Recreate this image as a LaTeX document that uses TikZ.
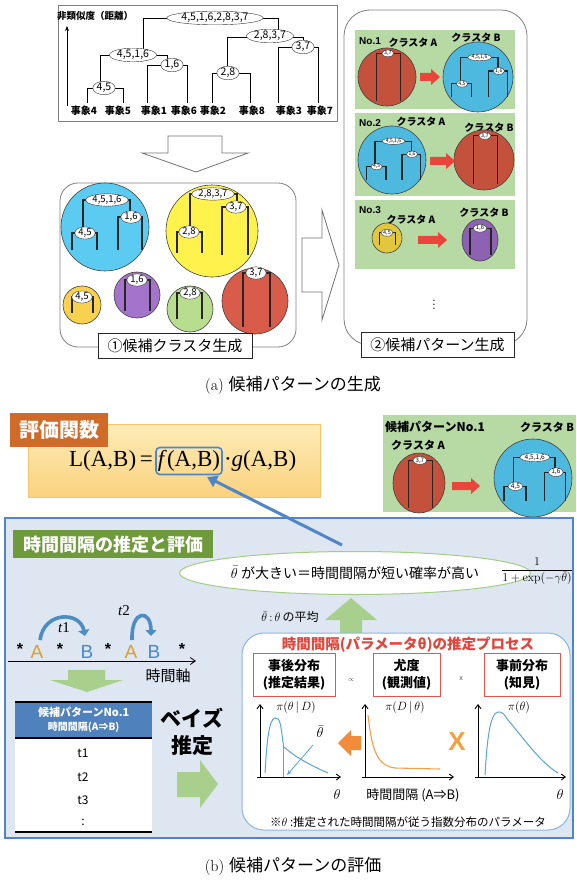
\documentclass[tikz,border=0pt]{standalone}
\usepackage{fontspec}
\usetikzlibrary{shapes.geometric,arrows.meta,calc}
\newfontfamily\jp{Noto Sans CJK JP}
\newfontfamily\tm{Liberation Serif}
\newfontfamily\ar{Liberation Sans}
\newcommand\fs[2]{\fontsize{#1}{#2}\selectfont}
\newcommand\labfs{9.5}
\definecolor{cBlue}{HTML}{5CCBF2}
\definecolor{cBlueP}{HTML}{4DB9DE}
\definecolor{cYel}{HTML}{FFF24C}
\definecolor{cYel2}{HTML}{F8D24E}
\definecolor{cYelP}{HTML}{E2C63E}
\definecolor{cPur}{HTML}{A474CC}
\definecolor{cPurP}{HTML}{8E62B2}
\definecolor{cGrn}{HTML}{B9DD8E}
\definecolor{cRed}{HTML}{D95B4A}
\definecolor{cRedP}{HTML}{C4513C}
\definecolor{cPanel}{HTML}{B7D9A3}
\definecolor{cPanelB}{HTML}{A2C98C}
\definecolor{cRArrow}{HTML}{E9453A}
\definecolor{cTag}{HTML}{D06A28}
\definecolor{cOBtop}{HTML}{FDECB8}
\definecolor{cOBbot}{HTML}{FAD27E}
\definecolor{cOBline}{HTML}{F5C46C}
\definecolor{cBL}{HTML}{4F86C6}
\definecolor{cBigFill}{HTML}{DDE6F1}
\definecolor{cGTag}{HTML}{6E9A3C}
\definecolor{cEllB}{HTML}{A3CD84}
\definecolor{cGA}{HTML}{A8D08C}
\definecolor{cLA}{HTML}{D9A030}
\definecolor{cLB}{HTML}{4A88D0}
\definecolor{cArc}{HTML}{4C8DC4}
\definecolor{cTH}{HTML}{4F81BD}
\definecolor{cIB}{HTML}{8DB4E2}
\definecolor{cTitle}{HTML}{E0463C}
\definecolor{cRBox}{HTML}{E2564E}
\definecolor{cCurve}{HTML}{5BA3DC}
\definecolor{cOr}{HTML}{F28C3A}
\definecolor{cOr2}{HTML}{F5A040}
\definecolor{cOCurve}{HTML}{F4A04A}
\tikzset{
  dl/.style={line width=0.9pt, black},
  tl/.style={line width=1.4pt, black!85},
  gbox/.style={draw=black!50, line width=0.8pt},
  circ/.style={draw=black!75, line width=0.6pt},
  lab/.style={ellipse, draw=black!80, fill=white, line width=0.4pt, inner xsep=0.6pt, inner ysep=0pt, font=\jp\fs{\labfs}{\labfs}},
  ev/.style={font=\jp\bfseries\fs{10}{10}, inner sep=0pt},
  hollow/.style={draw=black!55, fill=white, line width=0.8pt},
  capbox/.style={draw=black!85, fill=white, line width=0.8pt, font=\jp\fs{15}{18}, inner sep=0pt},
  pt/.style={font=\jp\bfseries\fs{10}{10}, inner sep=0pt},
  pno/.style={font=\ar\bfseries\fs{10}{10}, inner sep=0pt},
  rbox/.style={draw=cRBox, fill=white, line width=1pt, align=center, font=\jp\bfseries\fs{13}{17}, inner sep=1pt},
  cv/.style={draw=cCurve, line width=1pt},
  cvo/.style={draw=cOCurve, line width=1.1pt},
  axis/.style={line width=0.9pt, black, -{Straight Barb[length=4pt,width=6pt]}},
  tarc/.style={line width=3.6pt, cArc, -{Triangle[length=6pt,width=11pt]}},
  letter/.style={font=\ar\fs{19}{19}, inner sep=0pt},
  star/.style={font=\ar\bfseries\fs{16}{16}, inner sep=0pt},
}
% mini dendrograms, local coordinates relative to circle centre
\newcommand\treeBlue[1]{%
  \draw[tl] (-22,6) -- (-22,-27) -- (25,-27) -- (25,-10);
  \draw[tl] (-33,23) -- (-33,6) -- (-8,6) -- (-8,23);
  \draw[tl] (13,23) -- (13,-10) -- (37,-10) -- (37,23);
  \node[lab] (#1a) at (2,-27) {4,5,1,6};
  \node[lab] (#1b) at (-20,6) {4,5};
  \node[lab] (#1c) at (26,-10) {1,6};}
\newcommand\treeYel[1]{%
  \draw[tl] (-22,1) -- (-22,-37) -- (25,-37) -- (25,-24);
  \draw[tl] (-35,22) -- (-35,1) -- (-10,1) -- (-10,22);
  \draw[tl] (10,24) -- (10,-24) -- (36,-24) -- (36,24);
  \node[lab] (#1a) at (1,-37) {2,8,3,7};
  \node[lab] (#1b) at (-23,1) {2,8};
  \node[lab] (#1c) at (24,-24) {3,7};}
\newcommand\treeRed[1]{%
  \draw[tl] (-12,26) -- (-12,-28) -- (15,-28) -- (15,26);
  \node[lab] (#1a) at (1,-28) {3,7};}
\newcommand\treeSY[1]{%
  \draw[tl] (-10,8) -- (-10,-8) -- (11,-8) -- (11,8);
  \node[lab] (#1a) at (0,-8) {4,5};}
\newcommand\treePur[1]{%
  \draw[tl] (-12,16) -- (-12,-15) -- (13,-15) -- (13,16);
  \node[lab] (#1a) at (0,-15) {1,6};}
\newcommand\treeGrn[1]{%
  \draw[tl] (-13,10) -- (-13,-16) -- (12,-16) -- (12,10);
  \node[lab] (#1a) at (0,-16) {2,8};}
\newcommand\redarrow[3]{%
  \fill[cRArrow] (#1,{#3-4}) -- ({#2-9},{#3-4}) -- ({#2-9},{#3-8}) -- (#2,#3) -- ({#2-9},{#3+8}) -- ({#2-9},{#3+4}) -- (#1,{#3+4}) -- cycle;}
\begin{document}
\begin{tikzpicture}[x=1pt,y=-1pt]
\useasboundingbox (0,0) rectangle (576,882);
\fill[white] (0,0) rectangle (576,882);

% ================= (a) =================
\draw[gbox] (58,5) rectangle (337,121);
\draw[dl,-{Stealth[length=5pt,width=4pt]}] (67,106) -- (67,26);
\node[anchor=west,font=\jp\bfseries\fs{9.5}{10},inner sep=0pt] (ylab) at (57,16) {非類似度（距離）};
\draw[dl] (143,53) -- (143,18) -- (278,18) -- (278,33);
\draw[dl] (100,86) -- (100,55) -- (167,55) -- (167,64);
\draw[dl] (87,103) -- (87,88) -- (123,88) -- (123,103);
\draw[dl] (147,103) -- (147,65) -- (187,65) -- (187,103);
\draw[dl] (227,72) -- (227,37) -- (303,37) -- (303,47);
\draw[dl] (212,103) -- (212,73) -- (250,73) -- (250,103);
\draw[dl] (278,103) -- (278,47) -- (318,47) -- (318,103);
\begin{scope}\def\labfs{10.5}
\node[lab] (d1) at (215,18) {4,5,1,6,2,8,3,7};
\node[lab] (d2) at (270,36) {2,8,3,7};
\node[lab] (d3) at (303,47) {3,7};
\node[lab] (d4) at (133,55) {4,5,1,6};
\node[lab] (d5) at (172,65) {1,6};
\node[lab] (d6) at (228,73) {2,8};
\node[lab] (d7) at (104,88) {4,5};
\end{scope}
\foreach \x/\t [count=\i] in {84/4,118/5,154/1,184/6,213/2,252/8,289/3,320/7}
  \node[ev] (e\i) at (\x,111) {事象\t};

\draw[hollow] (168,136) -- (222,136) -- (222,153) -- (248,153) -- (196,172) -- (142,153) -- (168,153) -- cycle;

\draw[gbox,rounded corners=18pt] (60,183) rectangle (296,347);
\fill[cBlue] (105,227) circle (44); \draw[circ] (105,227) circle (44);
\fill[cYel] (212,231) circle (46); \draw[circ] (212,231) circle (46);
\fill[cYel2] (82,305) circle (19); \draw[circ] (82,305) circle (19);
\fill[cPur] (137,295) circle (23); \draw[circ] (137,295) circle (23);
\fill[cGrn] (190,309) circle (23); \draw[circ] (190,309) circle (23);
\fill[cRed] (255,301) circle (33); \draw[circ] (255,301) circle (33);
\begin{scope}[shift={(105,227)}]\treeBlue{cb}\end{scope}
\begin{scope}[shift={(212,231)}]\treeYel{cy}\end{scope}
\begin{scope}[shift={(82,305)}]\treeSY{cs}\end{scope}
\begin{scope}[shift={(137,295)}]\treePur{cp}\end{scope}
\begin{scope}[shift={(190,309)}]\treeGrn{cg}\end{scope}
\begin{scope}[shift={(255,301)}]\treeRed{cr}\end{scope}
\node[capbox, minimum width=154pt, minimum height=25pt] (lab1) at (175,345.5) {①候補クラスタ生成};

\draw[hollow] (302,238) -- (322,238) -- (322,210) -- (339,265) -- (322,320) -- (322,292) -- (302,292) -- cycle;

\draw[gbox,rounded corners=26pt] (344,10) rectangle (527,345);
\fill[cPanel] (355,30) rectangle (515,109);
\fill[cPanel] (355,113) rectangle (515,196);
\fill[cPanel] (355,200) rectangle (515,269);
\node[pno] (n1) at (370,41) {No.1};
\node[pt] (n1a) at (413,43) {クラスタ A};
\node[pt] (n1b) at (476,38) {クラスタ B};
\fill[cRedP] (387,77) circle (29); \draw[circ] (387,77) circle (29);
\fill[cBlueP] (478,77) circle (35); \draw[circ] (478,77) circle (35);
\begin{scope}[shift={(387,78)},scale=0.88,every node/.append style={transform shape}]\def\labfs{6}\treeRed{p1r}\end{scope}
\begin{scope}[shift={(478,79)},scale=0.8,every node/.append style={transform shape}]\def\labfs{6.5}\treeBlue{p1b}\end{scope}
\redarrow{420}{440}{77}
\node[pno] (n2) at (370,123) {No.2};
\node[pt] (n2a) at (421,122) {クラスタ A};
\node[pt] (n2b) at (489,128) {クラスタ B};
\fill[cBlueP] (392,160) circle (34); \draw[circ] (392,160) circle (34);
\fill[cRedP] (484,160) circle (30); \draw[circ] (484,160) circle (30);
\begin{scope}[shift={(392,162)},scale=0.77,every node/.append style={transform shape}]\def\labfs{6.5}\treeBlue{p2b}\end{scope}
\begin{scope}[shift={(484,161)},scale=0.9,every node/.append style={transform shape}]\def\labfs{6}\treeRed{p2r}\end{scope}
\redarrow{430}{455}{161}
\node[pno] (n3) at (370,210) {No.3};
\node[pt] (n3a) at (411,220) {クラスタ A};
\node[pt] (n3b) at (484,213) {クラスタ B};
\fill[cYelP] (387,238) circle (15); \draw[circ] (387,238) circle (15);
\fill[cPurP] (480,240) ellipse (18 and 21); \draw[circ] (480,240) ellipse (18 and 21);
\begin{scope}[shift={(387,239)},scale=0.78,every node/.append style={transform shape}]\def\labfs{7}\treeSY{p3s}\end{scope}
\begin{scope}[shift={(480,241)},scale=0.85,every node/.append style={transform shape}]\def\labfs{7}\treePur{p3p}\end{scope}
\redarrow{418}{447}{240}
\node[inner sep=0pt] (dots) at (434,302) {\fs{14}{14}$\vdots$};
\node[capbox, minimum width=153pt, minimum height=25pt] (lab2) at (437.5,344.5) {②候補パターン生成};

\node[inner sep=0pt] (capa) at (293,385) {\fs{16}{19}(a)\ \jp\fs{17}{20}候補パターンの生成};

% ================= (b) =================
\draw[draw=cOBline, top color=cOBtop, bottom color=cOBbot, line width=0.6pt] (28,424) rectangle (320,497);
\node[fill=cTag, text=white, font=\jp\bfseries\fs{20}{24}, minimum width=98pt, minimum height=34pt, inner sep=0pt, anchor=north west] (tag) at (10,413) {評価関数};
\node[draw=cBL, line width=1.6pt, rounded corners=4pt, inner xsep=2pt, inner ysep=3pt, font=\tm\fs{23}{26}] (fb) at (189,461) {\textit{f}(A,B)};
\node[anchor=east, font=\tm\fs{23}{26}, inner sep=0pt] (fl) at ([xshift=-2pt]fb.west) {L(A,B)\,=};
\node[anchor=west, font=\tm\fs{23}{26}, inner sep=0pt] (fg) at ([xshift=1pt]fb.east) {·\textit{g}(A,B)};

\fill[cPanel] (383,415) rectangle (576,512);
\node[anchor=west, font=\jp\bfseries\fs{12}{12}, inner sep=0pt] (bp) at (385,427) {候補パターンNo.1};
\node[pt, font=\jp\bfseries\fs{11}{11}] (bpb) at (547,427) {クラスタ B};
\node[pt, font=\jp\bfseries\fs{11}{11}] (bpa) at (418,445) {クラスタ A};
\fill[cRedP] (419,483) ellipse (26 and 30); \draw[circ] (419,483) ellipse (26 and 30);
\fill[cBlueP] (533,478) circle (39); \draw[circ] (533,478) circle (39);
\begin{scope}[shift={(419,485)},scale=0.88,every node/.append style={transform shape}]\def\labfs{7}\treeRed{b1r}\end{scope}
\begin{scope}[shift={(533,481)},scale=0.88,every node/.append style={transform shape}]\def\labfs{7.5}\treeBlue{b1b}\end{scope}
\redarrow{452}{480}{486}

\draw[draw=cBL, line width=2.6pt, fill=cBigFill] (5,518) rectangle (573,838);
\node[fill=cGTag, text=white, font=\jp\bfseries\fs{18}{20}, minimum width=200pt, minimum height=28pt, inner sep=0pt, anchor=north west] (gtag) at (13,530) {時間間隔の推定と評価};

\coordinate (aS) at (342,545);
\coordinate (aE) at (207,477);
\draw[cBL, line width=3pt, -{Triangle[length=10pt,width=12pt]}] (aS) -- (aE);
\node[ellipse, draw=cEllB, fill=white, line width=1pt, minimum width=280pt, minimum height=43pt, inner sep=0pt, font=\jp\fs{14}{16}] (ell) at (355,573) {$\bar{\theta}$ が大きい＝時間間隔が短い確率が高い};
\node[inner sep=0pt] (frac) at (537,571) {\fs{12}{14}$\displaystyle\frac{1}{1+\exp(-\gamma\bar{\theta})}$};
\node[inner sep=0pt] (avg) at (290,617) {\fs{13}{13}$\bar{\theta}\,{:}\,\theta$\,\jp\fs{12}{12}の平均};
\fill[cGA] (340,634) -- (340,620) -- (325,620) -- (351,598) -- (377,620) -- (362,620) -- (362,634) -- cycle;

\coordinate (ax0) at (8,661);
\coordinate (ax1) at (196,661);
\draw[line width=0.8pt, -{Straight Barb[length=5pt,width=7pt]}] (ax0) -- (ax1);
\node[star] (s1) at (20,649) {*};
\node[letter, text=cLA] (A1) at (37,652) {A};
\node[star] (s2) at (60,649) {*};
\node[letter, text=cLB] (B1) at (87,652) {B};
\node[star] (s3) at (108,649) {*};
\node[letter, text=cLA] (A2) at (131,652) {A};
\node[letter, text=cLB] (B2) at (154,652) {B};
\node[star] (s4) at (182,649) {*};
\draw[tarc] (40,640) .. controls (44,611) and (80,611) .. (85,636);
\draw[tarc] (132,640) .. controls (131,609) and (151,609) .. (151,636);
\node[font=\tm\fs{15}{15}, inner sep=0pt] (t1l) at (64,628) {\textit{t}1};
\node[font=\tm\fs{15}{15}, inner sep=0pt] (t2l) at (124,611) {\textit{t}2};
\node[font=\jp\fs{15}{15}, inner sep=0pt] (axl) at (168,676) {時間軸};
\fill[cGA] (68,670) -- (105,670) -- (105,680) -- (123,680) -- (87,692) -- (50,680) -- (68,680) -- cycle;

\fill[white] (15,738) rectangle (152,832);
\node[fill=cTH, minimum width=137pt, minimum height=36pt, inner sep=0pt, text=white, font=\jp\bfseries\fs{11}{14}, align=center, anchor=north west] (th) at (15,702) {候補パターンNo.1\\{\fs{10}{13}時間間隔(A⇒B)}};
\draw[line width=1.5pt] (15,702) -- (152,702);
\draw[line width=1.5pt] (15,738) -- (152,738);
\draw[line width=1.5pt] (15,832) -- (152,832);
\node[font=\jp\fs{12}{12}, inner sep=0pt] (r1) at (83,753) {t1};
\node[font=\jp\fs{12}{12}, inner sep=0pt] (r2) at (83,777) {t2};
\node[font=\jp\fs{12}{12}, inner sep=0pt] (r3) at (83,800) {t3};
\node[font=\jp\fs{12}{12}, inner sep=0pt] (r4) at (83,822) {:};
\node[font=\jp\bfseries\fs{21}{27}, align=center, inner sep=0pt] (bayes) at (192,732) {ベイズ\\推定};
\fill[cGA] (177,772) -- (200,772) -- (200,760) -- (218,784) -- (200,808) -- (200,797) -- (177,797) -- cycle;

\draw[draw=cIB, fill=white, line width=1pt, rounded corners=22pt] (242,633) rectangle (570,830);
\node[text=cTitle, font=\jp\bfseries\fs{14.5}{15}, inner sep=0pt] (ptitle) at (408,645) {時間間隔(パラメータθ)の推定プロセス};
\node[rbox, minimum width=82pt, minimum height=43pt] (b1) at (294,674.5) {事後分布\\(推定結果)};
\node[rbox, minimum width=67pt, minimum height=43pt] (b2) at (406.5,674.5) {尤度\\(観測値)};
\node[rbox, minimum width=76pt, minimum height=43pt] (b3) at (522,674.5) {事前分布\\(知見)};
\node[font=\fs{7}{7}, text=black!70, inner sep=0pt] (prop) at (351,680) {$\propto$};
\node[font=\ar\fs{7}{7}, text=black!70, inner sep=0pt] (times) at (461,679) {x};
\node[font=\fs{13}{13}, inner sep=0pt] (p1) at (296,707) {$\pi(\theta\,|\,D)$};
\node[font=\fs{13}{13}, inner sep=0pt] (p2) at (405,707) {$\pi(D\,|\,\theta)$};
\node[font=\fs{13}{13}, inner sep=0pt] (p3) at (519,707) {$\pi(\theta)$};
\coordinate (o1) at (260,777);
\draw[axis] (o1) -- (260,704);
\draw[axis] (257,777) -- (341,777);
\draw[cv] (265,773) .. controls (267,740) and (269,719) .. (275,718) .. controls (280,717) and (281,725) .. (283,743);
\draw[cv] (283,743) -- (283,777);
\draw[cv] (284,747) .. controls (295,757) and (310,765) .. (328,773);
\node[font=\fs{15}{15}, inner sep=0pt] (tb) at (320,732) {$\bar{\theta}$};
\coordinate (tbA) at (313,745);
\coordinate (tbB) at (287,775);
\draw[cv, line width=0.8pt, -{Stealth[length=5pt,width=4pt]}] (tbA) -- (tbB);
\node[font=\fs{15}{15}, inner sep=0pt] (th1) at (337,794) {$\theta$};
\fill[cOr] (338,743) -- (351,730) -- (351,736) -- (361,736) -- (361,750) -- (351,750) -- (351,756) -- cycle;
\coordinate (o2) at (365,777);
\draw[axis] (o2) -- (365,704);
\draw[axis] (362,777) -- (454,777);
\draw[cvo] (368,715) .. controls (372,752) and (378,766) .. (395,768) -- (440,769);
\node[font=\jp\fs{13}{13}, inner sep=0pt] (xl) at (413,795) {時間間隔 (A⇒B)};
\node[text=cOr2, font=\ar\bfseries\fs{26}{26}, inner sep=0pt] (xx) at (457,742) {X};
\coordinate (o3) at (478,777);
\draw[axis] (o3) -- (478,704);
\draw[axis] (475,777) -- (566,777);
\draw[cv] (485,775) .. controls (487,740) and (490,713) .. (498,712) .. controls (503,711) and (505,716) .. (508,720) .. controls (525,740) and (540,762) .. (558,773);
\node[font=\fs{15}{15}, inner sep=0pt] (th3) at (560,794) {$\theta$};
\node[font=\jp\fs{11.5}{12}, inner sep=0pt] (fn) at (408,822) {※$\theta$ :推定された時間間隔が従う指数分布のパラメータ};

\node[inner sep=0pt] (capb) at (293,866) {\fs{16}{19}(b)\ \jp\fs{17}{20}候補パターンの評価};
\end{tikzpicture}
\end{document}
